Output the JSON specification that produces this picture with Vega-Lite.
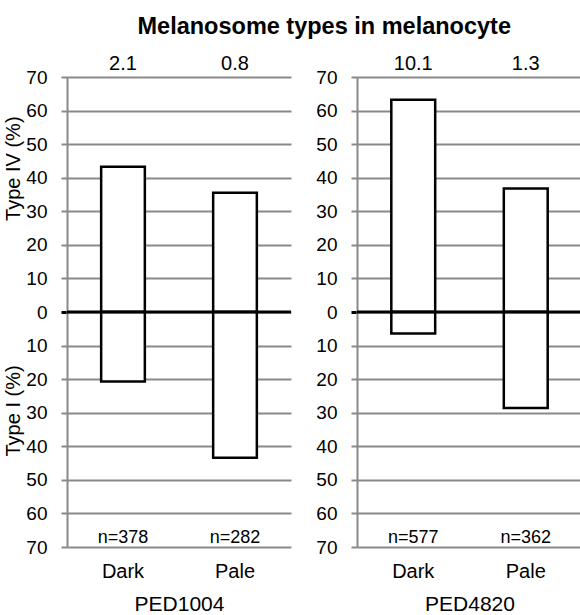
{
  "$schema": "https://vega.github.io/schema/vega-lite/v6.json",
  "padding": {"left": 2, "top": 14, "right": 2, "bottom": 0},
  "config": {
    "font": "Liberation Sans",
    "view": {"stroke": null},
    "text": {"color": "black"}
  },
  "title": {
    "text": "Melanosome types in melanocyte",
    "font": "Liberation Sans",
    "fontSize": 23.5,
    "fontWeight": "bold",
    "color": "black",
    "anchor": "middle",
    "dx": 31,
    "offset": 16
  },
  "datasets": {
    "bars1004": [
      {"pig": "Dark", "type": "IV", "value": 43.3},
      {"pig": "Dark", "type": "I", "value": -20.7},
      {"pig": "Pale", "type": "IV", "value": 35.5},
      {"pig": "Pale", "type": "I", "value": -43.4}
    ],
    "labels1004": [
      {"pig": "Dark", "ratio": 2.1, "n": "n=378"},
      {"pig": "Pale", "ratio": 0.8, "n": "n=282"}
    ],
    "bars4820": [
      {"pig": "Dark", "type": "IV", "value": 63.2},
      {"pig": "Dark", "type": "I", "value": -6.4},
      {"pig": "Pale", "type": "IV", "value": 36.8},
      {"pig": "Pale", "type": "I", "value": -28.6}
    ],
    "labels4820": [
      {"pig": "Dark", "ratio": 10.1, "n": "n=577"},
      {"pig": "Pale", "ratio": 1.3, "n": "n=362"}
    ],
    "zero": [{"baseline": 0}]
  },
  "spacing": 22,
  "hconcat": [
    {
      "width": 224,
      "height": 470,
      "layer": [
        {
          "data": {"name": "bars1004"},
          "mark": {"type": "bar", "fill": "white", "stroke": "black", "strokeWidth": 2.5, "width": {"band": 0.39}},
          "encoding": {
            "x": {"field": "pig", "type": "nominal", "sort": ["Dark", "Pale"], "scale": {"paddingInner": 0, "paddingOuter": 0},
              "axis": {"title": "PED1004", "domain": false, "ticks": false, "tickSize": 0, "labelAngle": 0, "labelFontSize": 20, "labelColor": "black", "labelPadding": 14, "titleFontSize": 21, "titleFontWeight": "normal", "titleColor": "black", "titlePadding": 12}},
            "y": {"field": "value", "type": "quantitative", "scale": {"domain": [-70, 70], "nice": false},
              "axis": {"values": [-70, -60, -50, -40, -30, -20, -10, 0, 10, 20, 30, 40, 50, 60, 70], "tickCount": 30, "labelExpr": "abs(datum.value)", "labelOverlap": false,
                "grid": true, "gridColor": "#898989", "gridWidth": 2,
                "domainColor": "#898989", "domainWidth": 2,
                "tickColor": {"condition": {"test": "datum.value === 0", "value": "black"}, "value": "#898989"},
                "tickWidth": {"condition": {"test": "datum.value === 0", "value": 3}, "value": 2},
                "tickSize": 6, "labelFontSize": 19, "labelColor": "black", "labelPadding": 14,
                "title": "Type I (%)\u00a0\u00a0\u00a0\u00a0\u00a0\u00a0\u00a0\u00a0\u00a0\u00a0\u00a0\u00a0\u00a0\u00a0\u00a0\u00a0\u00a0\u00a0\u00a0\u00a0\u00a0\u00a0\u00a0\u00a0\u00a0\u00a0Type IV (%)",
                "titleFontSize": 20, "titleFontWeight": "normal", "titleColor": "black", "titleAngle": 270,
                "titleAlign": "center", "titleBaseline": "alphabetic", "titleX": -48, "titleY": 209}},
            "y2": {"datum": 0}
          }
        },
        {
          "data": {"name": "zero"},
          "mark": {"type": "rule", "color": "black", "strokeWidth": 3},
          "encoding": {"y": {"field": "baseline", "type": "quantitative"}}
        },
        {
          "data": {"name": "labels1004"},
          "mark": {"type": "text", "fontSize": 20, "baseline": "alphabetic", "dy": -7},
          "encoding": {
            "x": {"field": "pig", "type": "nominal", "sort": ["Dark", "Pale"], "axis": {"title": "PED1004"}},
            "y": {"datum": 70},
            "text": {"field": "ratio", "type": "quantitative", "format": ".1f"}
          }
        },
        {
          "data": {"name": "labels1004"},
          "mark": {"type": "text", "fontSize": 18, "baseline": "alphabetic", "dy": -4},
          "encoding": {
            "x": {"field": "pig", "type": "nominal", "sort": ["Dark", "Pale"], "axis": {"title": "PED1004"}},
            "y": {"datum": -70},
            "text": {"field": "n", "type": "nominal"}
          }
        }
      ]
    },
    {
      "width": 225,
      "height": 470,
      "layer": [
        {
          "data": {"name": "bars4820"},
          "mark": {"type": "bar", "fill": "white", "stroke": "black", "strokeWidth": 2.5, "width": {"band": 0.39}},
          "encoding": {
            "x": {"field": "pig", "type": "nominal", "sort": ["Dark", "Pale"], "scale": {"paddingInner": 0, "paddingOuter": 0},
              "axis": {"title": "PED4820", "domain": false, "ticks": false, "tickSize": 0, "labelAngle": 0, "labelFontSize": 20, "labelColor": "black", "labelPadding": 14, "titleFontSize": 21, "titleFontWeight": "normal", "titleColor": "black", "titlePadding": 12}},
            "y": {"field": "value", "type": "quantitative", "scale": {"domain": [-70, 70], "nice": false},
              "axis": {"values": [-70, -60, -50, -40, -30, -20, -10, 0, 10, 20, 30, 40, 50, 60, 70], "tickCount": 30, "labelExpr": "abs(datum.value)", "labelOverlap": false,
                "grid": true, "gridColor": "#898989", "gridWidth": 2,
                "domainColor": "#898989", "domainWidth": 2,
                "tickColor": {"condition": {"test": "datum.value === 0", "value": "black"}, "value": "#898989"},
                "tickWidth": {"condition": {"test": "datum.value === 0", "value": 3}, "value": 2},
                "tickSize": 6, "labelFontSize": 19, "labelColor": "black", "labelPadding": 14,
                "title": null}},
            "y2": {"datum": 0}
          }
        },
        {
          "data": {"name": "zero"},
          "mark": {"type": "rule", "color": "black", "strokeWidth": 3},
          "encoding": {"y": {"field": "baseline", "type": "quantitative"}}
        },
        {
          "data": {"name": "labels4820"},
          "mark": {"type": "text", "fontSize": 20, "baseline": "alphabetic", "dy": -7},
          "encoding": {
            "x": {"field": "pig", "type": "nominal", "sort": ["Dark", "Pale"], "axis": {"title": "PED4820"}},
            "y": {"datum": 70},
            "text": {"field": "ratio", "type": "quantitative", "format": ".1f"}
          }
        },
        {
          "data": {"name": "labels4820"},
          "mark": {"type": "text", "fontSize": 18, "baseline": "alphabetic", "dy": -4},
          "encoding": {
            "x": {"field": "pig", "type": "nominal", "sort": ["Dark", "Pale"], "axis": {"title": "PED4820"}},
            "y": {"datum": -70},
            "text": {"field": "n", "type": "nominal"}
          }
        }
      ]
    }
  ]
}
